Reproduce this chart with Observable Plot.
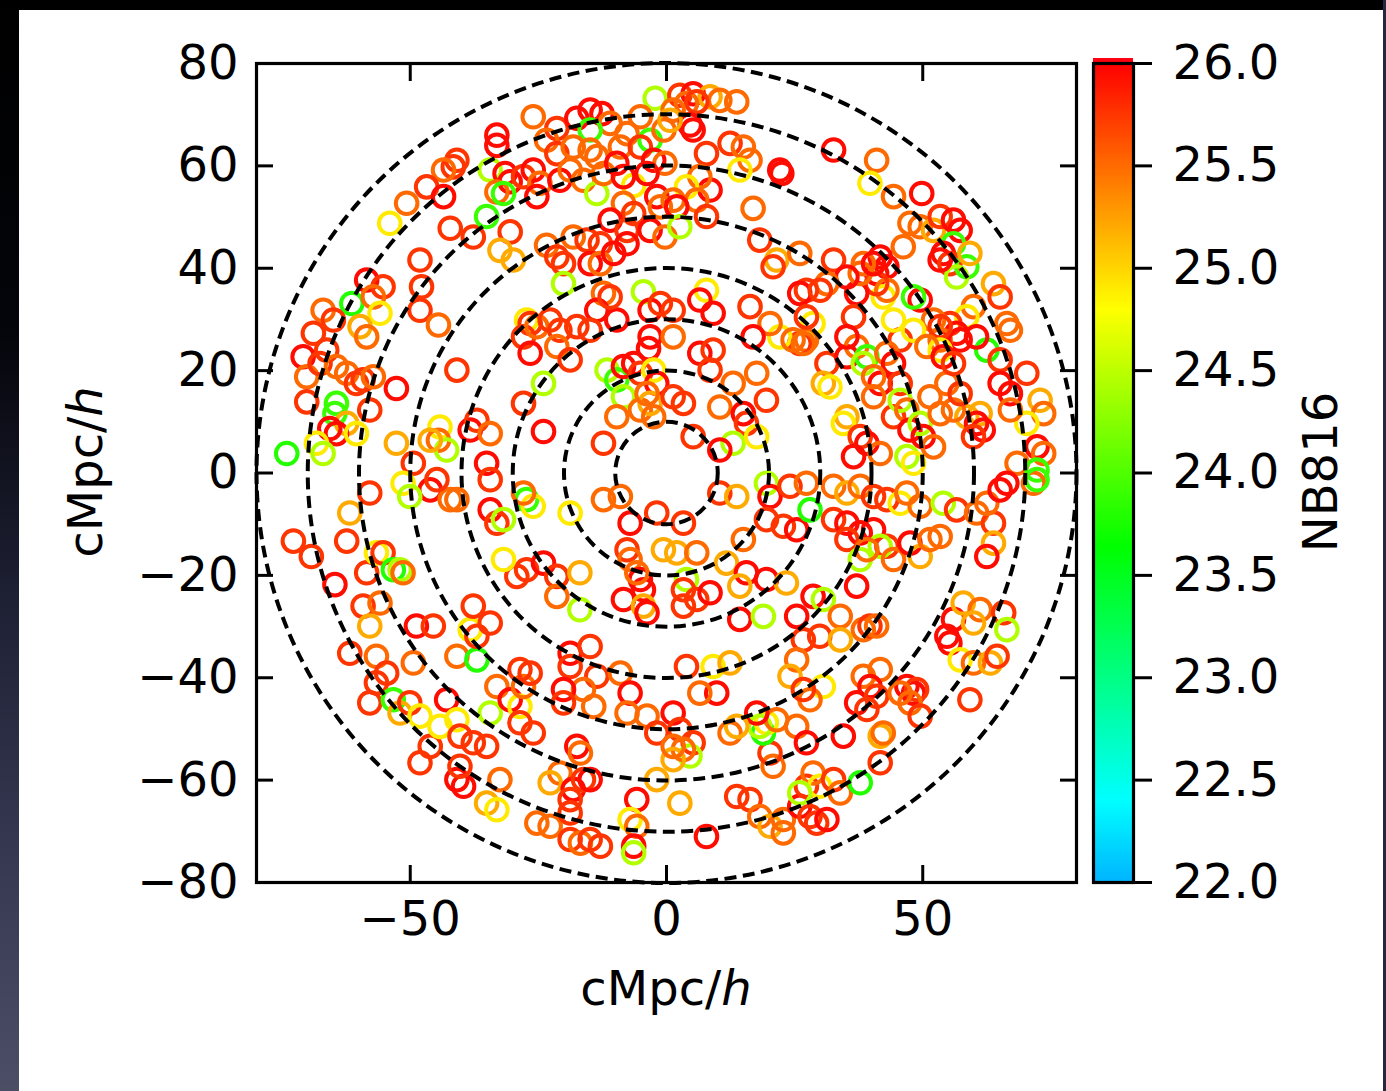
<!DOCTYPE html>
<html><head><meta charset="utf-8">
<script src="https://cdn.jsdelivr.net/npm/d3@7"></script>
<script src="https://cdn.jsdelivr.net/npm/@observablehq/plot@0.6"></script>
<style>
html,body{margin:0;padding:0;width:1386px;height:1091px;overflow:hidden;background:#000;}
#bgLeft{position:absolute;left:0;top:0;width:19px;height:1091px;background:linear-gradient(#000 0%,#04050a 30%,#1e2034 55%,#383a54 80%,#4c4e66 100%);}
#bgRight{position:absolute;left:1383px;top:0;width:3px;height:1091px;background:#262840;}
#panel{position:absolute;left:19px;top:10px;width:1364px;height:1081px;background:#fff;}
.abs{position:absolute;}
.abs svg{background:transparent !important;overflow:visible;}
.lbl{position:absolute;font-family:"DejaVu Sans";font-size:48px;line-height:48px;color:#000;white-space:nowrap;}
</style></head>
<body>
<div id="bgLeft"></div><div id="bgRight"></div><div id="panel"></div>
<div id="main" class="abs" style="left:19px;top:10px;"></div>
<div id="cbar" class="abs" style="left:1085px;top:10px;"></div>
<div class="lbl" style="left:666px;top:964px;transform:translateX(-50%);">cMpc/<i>h</i></div>
<div class="lbl" style="left:85px;top:472px;transform:translate(-50%,-50%) rotate(-90deg);">cMpc/<i>h</i></div>
<div class="lbl" style="left:1320px;top:472px;transform:translate(-50%,-50%) rotate(-90deg);">NB816</div>
<script>
// Galaxies: [x (cMpc/h), y (cMpc/h), NB816 magnitude], by quadrant
const galaxiesNW = [[-2.2,73.2,24.45],[-26.0,69.6,25.5],[-21.4,67.3,25.75],[-17.5,69.3,25.95],[-14.9,70.9,25.95],[-12.6,70.2,25.95],[-11.0,68.3,25.5],[-14.9,67.0,23.9],[-7.7,66.3,25.5],[-5.1,69.6,25.5],[-3.2,65.0,23.9],[-0.5,67.0,25.5],[-33.1,66.0,25.95],[-33.1,64.0,25.95],[-23.4,65.0,25.5],[-21.4,62.4,25.75],[-18.2,63.7,25.5],[-14.9,63.1,25.5],[-13.6,61.8,25.5],[-9.0,63.7,25.5],[-5.1,63.7,25.75],[-2.5,61.1,25.95],[-0.3,60.5,25.5],[-40.9,61.1,25.75],[-41.6,59.8,25.75],[-43.5,59.2,25.5],[-34.4,59.2,24.45],[-31.5,58.5,25.95],[-30.5,56.9,25.95],[-33.1,54.9,25.5],[-31.8,54.6,23.9],[-27.9,57.9,25.75],[-26.0,59.2,25.95],[-24.7,56.6,25.5],[-25.3,54.0,25.95],[-20.8,57.2,25.95],[-18.8,59.2,25.5],[-16.2,57.2,25.5],[-13.6,54.6,24.45],[-12.3,58.5,25.5],[-9.7,60.5,25.95],[-6.4,56.2,24.9],[-8.4,57.9,25.95],[-3.8,58.5,25.95],[-1.9,54.0,25.95],[-1.2,52.0,25.5],[-8.4,52.7,25.5],[-6.4,50.7,25.75],[-11.0,49.4,25.95],[-7.7,47.4,25.75],[-3.2,47.4,25.95],[-0.3,46.1,25.5],[-46.8,55.9,25.75],[-43.5,54.0,25.95],[-50.7,52.7,25.5],[-54.0,48.8,24.9],[-42.2,47.8,25.75],[-37.7,46.1,25.75],[-35.1,50.1,23.9],[-30.5,47.1,25.75],[-32.5,43.5,25.2],[-29.9,41.6,25.2],[-23.4,44.5,25.5],[-21.4,42.2,25.75],[-20.1,40.9,25.75],[-18.2,46.1,25.5],[-15.5,45.5,25.75],[-12.9,44.8,25.75],[-14.9,40.9,25.95],[-12.9,40.9,25.5],[-10.3,42.9,25.95],[-7.7,44.8,25.95],[-20.1,37.0,24.45],[-12.3,35.1,25.5],[-13.6,31.8,25.95],[-9.7,29.9,25.95],[-11.0,34.4,25.75],[-4.5,35.4,24.45],[-3.2,31.8,25.95],[-1.2,33.1,25.75],[-3.2,26.6,25.95],[-3.5,24.3,25.95],[-27.3,29.9,24.9],[-26.6,29.2,25.75],[-27.9,26.6,25.75],[-25.3,28.6,25.5],[-22.7,29.9,25.75],[-20.8,27.9,25.75],[-17.5,28.6,25.75],[-14.9,27.9,25.75],[-21.4,24.7,25.5],[-18.8,22.1,25.75],[-26.6,23.4,25.95],[-24.0,17.5,24.45],[-27.9,13.6,25.75],[-24.0,8.1,25.95],[-12.3,5.8,25.75],[-11.6,20.1,24.45],[-9.7,18.2,23.9],[-8.4,20.8,25.95],[-6.4,21.4,25.95],[-5.1,19.5,25.75],[-2.5,20.1,24.9],[-1.9,17.5,25.95],[-8.4,14.9,24.45],[-9.7,11.0,25.5],[-5.1,12.3,25.5],[-3.2,13.6,25.2],[-2.5,11.0,25.5],[-3.8,15.5,25.5],[-48.1,41.6,25.75],[-47.8,36.4,25.75],[-48.1,31.8,25.75],[-44.5,28.9,25.5],[-40.9,20.1,25.75],[-52.7,16.5,25.95],[-58.5,37.7,25.95],[-55.3,36.4,25.75],[-61.4,33.1,23.8],[-57.2,34.4,25.5],[-55.9,31.2,24.9],[-59.8,28.6,25.2],[-58.5,26.6,25.5],[-67.0,31.8,25.5],[-65.0,29.9,25.75],[-68.9,27.3,25.75],[-66.3,24.0,25.75],[-70.9,22.7,25.95],[-70.2,18.8,25.5],[-67.6,21.4,25.75],[-64.4,20.8,25.5],[-62.4,19.5,25.5],[-60.5,17.5,25.75],[-59.2,18.2,25.75],[-57.2,18.8,25.5],[-70.2,13.9,25.75],[-64.4,13.6,23.9],[-64.7,11.6,23.9],[-62.4,9.7,25.2],[-57.9,12.3,25.75],[-64.4,7.7,25.95],[-65.7,8.7,25.95],[-68.3,5.8,24.9],[-67.0,3.8,24.45],[-74.1,3.8,23.8],[-60.5,7.7,24.9],[-52.7,5.8,25.2],[-49.4,1.9,25.75],[-44.2,9.0,24.9],[-44.5,6.4,25.5],[-42.9,4.5,24.45],[-38.3,8.4,25.95],[-37.0,10.3,25.75],[-34.4,7.7,25.5],[-35.1,1.9,25.95],[-46.1,6.4,25.2]];
const galaxiesNE = [[2.6,73.8,25.75],[5.2,74.1,25.95],[8.5,73.5,25.2],[10.4,72.8,25.5],[13.7,72.5,25.5],[3.9,72.2,25.5],[5.9,72.5,25.75],[1.3,70.9,25.5],[4.6,68.0,25.95],[5.2,67.0,25.95],[0.7,68.9,25.2],[12.4,64.4,25.75],[15.0,63.7,25.5],[16.3,61.1,25.5],[7.8,62.4,25.75],[14.3,59.2,24.9],[22.1,59.2,25.95],[22.5,58.5,25.95],[8.5,55.3,25.95],[6.5,57.9,25.5],[3.9,55.9,24.9],[1.3,53.3,25.5],[5.9,53.3,25.5],[2.0,52.0,25.95],[7.8,50.1,25.75],[2.6,48.1,24.45],[16.9,51.7,25.5],[32.6,63.1,25.95],[41.0,61.1,25.5],[39.7,56.6,24.9],[44.3,54.0,25.5],[49.8,54.6,25.95],[47.5,48.8,25.5],[49.5,48.1,25.5],[52.1,47.4,25.2],[53.4,50.1,25.75],[56.0,49.4,25.95],[57.3,47.4,25.95],[56.0,44.8,23.9],[54.0,42.9,25.95],[55.3,40.9,25.75],[58.6,40.3,23.9],[59.2,42.9,25.2],[56.6,38.3,24.45],[53.4,41.6,25.95],[46.2,44.2,25.5],[41.7,42.2,25.95],[43.0,40.3,25.95],[41.0,39.0,25.95],[18.2,45.5,25.75],[21.5,41.6,25.2],[20.8,40.3,25.75],[26.0,42.9,25.5],[32.6,41.6,25.75],[38.4,40.9,25.5],[63.8,37.0,25.2],[65.1,34.4,25.75],[66.4,29.2,25.5],[67.1,27.9,25.5],[59.9,32.5,25.5],[58.6,30.5,24.9],[55.3,29.2,25.75],[56.6,27.3,25.95],[53.4,26.0,25.5],[57.3,26.0,25.95],[62.5,24.0,23.8],[65.1,22.1,25.75],[65.1,17.5,25.95],[67.1,15.5,25.95],[70.3,19.5,25.75],[72.9,14.2,25.2],[73.6,11.6,25.5],[70.3,9.7,24.9],[67.1,12.3,25.5],[72.3,5.1,25.95],[73.6,3.8,25.5],[68.4,1.9,25.5],[72.3,0.6,23.9],[49.5,33.8,25.95],[48.2,34.4,23.9],[52.1,29.9,25.5],[53.4,28.6,25.75],[53.4,24.0,24.9],[45.6,26.0,25.75],[48.2,27.9,24.9],[44.3,29.9,24.9],[42.3,34.4,24.9],[43.0,35.7,25.5],[41.0,37.0,25.75],[37.1,35.1,25.95],[37.8,39.0,25.5],[35.2,38.3,25.95],[31.3,37.0,25.5],[27.3,35.7,25.75],[26.0,35.1,25.95],[28.6,29.2,24.9],[27.3,26.0,25.5],[26.0,25.3,25.75],[22.1,26.6,24.9],[20.2,29.2,25.5],[16.9,26.6,25.95],[16.3,32.5,25.75],[7.8,35.7,24.9],[6.5,33.8,25.95],[9.1,31.2,25.95],[1.3,31.8,25.75],[1.3,26.6,25.5],[6.5,23.4,25.95],[9.1,24.0,25.75],[8.5,20.1,25.75],[13.0,17.5,25.5],[10.4,12.9,25.5],[15.0,11.6,25.95],[17.6,19.5,25.5],[19.5,14.2,25.75],[15.6,9.7,25.75],[13.0,5.8,24.45],[17.6,7.1,24.9],[5.2,7.1,25.75],[3.3,13.6,25.75],[1.3,14.9,25.75],[10.4,4.5,25.95],[31.3,21.4,25.75],[26.7,25.3,25.5],[35.2,22.7,25.95],[37.1,24.7,25.5],[39.1,22.7,23.9],[38.4,21.4,24.45],[43.0,23.4,25.5],[44.3,21.4,25.95],[41.7,17.5,25.95],[40.4,18.8,25.5],[45.6,17.5,25.75],[30.6,17.5,25.2],[31.9,16.8,24.9],[35.2,11.0,25.2],[34.5,9.7,24.9],[37.8,7.1,25.75],[39.1,5.8,25.95],[36.5,3.2,25.95],[41.7,3.8,25.5],[44.3,11.0,25.75],[45.6,14.2,24.45],[46.9,12.3,25.5],[47.5,8.4,25.95],[49.5,9.7,24.45],[50.1,7.1,25.95],[52.1,5.1,25.5],[46.9,3.2,24.45],[48.2,1.9,24.9],[51.4,14.9,25.5],[54.7,17.5,25.5],[58.6,11.0,25.2],[61.2,11.6,25.2],[56.0,12.3,25.5],[53.4,11.6,25.5],[57.3,15.5,25.75],[60.5,9.7,25.95],[61.8,8.4,25.95],[59.9,7.1,25.75],[60.5,26.6,25.95],[50.8,24.7,25.5],[54.0,22.7,25.95],[56.0,21.4,25.75],[40.4,14.9,25.5],[27.3,30.5,25.75],[24.7,26.0,25.5],[36.5,30.5,25.75],[35.2,26.6,25.95],[40.4,40.9,25.95],[30.0,35.7,25.75]];
const galaxiesSW = [[-72.8,-13.3,25.75],[-69.3,-16.3,25.75],[-64.7,-21.8,25.95],[-62.4,-13.3,25.75],[-61.8,-7.8,25.2],[-57.9,-3.9,25.75],[-58.5,-19.5,25.75],[-56.6,-15.6,24.9],[-55.3,-15.6,25.75],[-53.3,-18.9,23.8],[-52.0,-18.9,24.45],[-51.4,-19.5,25.5],[-59.2,-26.0,25.75],[-55.9,-25.4,25.5],[-57.9,-29.9,25.2],[-61.8,-35.2,25.75],[-56.6,-35.8,25.5],[-54.6,-39.1,25.75],[-49.4,-37.1,25.5],[-56.6,-41.0,25.75],[-57.9,-44.9,25.75],[-53.3,-44.3,23.9],[-52.0,-46.9,25.2],[-50.1,-44.9,25.75],[-48.1,-47.5,24.9],[-48.1,-56.6,25.75],[-46.1,-53.4,25.75],[-44.2,-49.5,24.9],[-42.9,-44.3,25.95],[-40.9,-48.2,24.9],[-40.3,-51.4,25.75],[-37.7,-52.7,25.75],[-35.1,-53.4,25.75],[-40.9,-59.9,25.95],[-39.6,-61.2,25.95],[-40.3,-57.3,25.75],[-35.1,-64.5,25.2],[-33.1,-65.8,24.9],[-32.5,-59.9,25.5],[-48.8,-29.9,25.95],[-45.5,-29.9,25.75],[-40.9,-35.8,25.5],[-37.0,-36.5,23.8],[-38.3,-30.6,24.9],[-37.7,-26.0,25.75],[-34.4,-29.3,25.75],[-37.0,-31.9,25.75],[-33.1,-41.7,25.5],[-34.4,-46.9,24.45],[-30.5,-44.3,25.95],[-28.6,-45.6,24.9],[-27.9,-41.7,25.5],[-28.6,-38.4,25.75],[-26.6,-39.1,25.75],[-28.6,-48.8,25.75],[-26.0,-50.8,25.75],[-29.2,-20.2,25.75],[-27.3,-18.9,25.75],[-24.0,-17.6,25.95],[-31.8,-16.9,24.9],[-21.4,-20.2,25.75],[-21.4,-24.1,25.5],[-16.9,-26.7,24.45],[-16.9,-19.5,25.2],[-18.8,-35.2,25.95],[-18.8,-37.8,25.75],[-14.9,-33.9,25.75],[-13.6,-39.7,25.75],[-16.2,-42.3,25.5],[-20.1,-42.3,25.95],[-20.1,-44.9,25.75],[-14.2,-45.6,25.5],[-9.0,-39.1,25.5],[-7.1,-43.0,25.95],[-7.7,-46.9,25.5],[-3.8,-47.5,25.5],[-1.9,-50.8,25.75],[-17.5,-53.4,25.95],[-16.8,-54.7,25.5],[-20.8,-58.6,25.5],[-22.7,-60.5,25.2],[-18.2,-61.8,25.95],[-16.2,-59.9,25.75],[-14.9,-59.9,25.95],[-18.8,-63.8,25.75],[-5.8,-63.8,25.95],[-1.9,-59.9,25.2],[-7.1,-67.7,24.9],[-5.8,-69.0,25.5],[-6.4,-72.9,25.95],[-6.4,-74.2,24.45],[-25.3,-68.4,25.5],[-22.7,-69.0,25.5],[-18.8,-66.4,25.75],[-18.8,-71.6,25.75],[-16.8,-72.3,25.5],[-14.9,-71.6,25.75],[-12.9,-72.9,25.75],[-12.3,-5.2,25.5],[-9.0,-4.6,25.5],[-7.1,-9.8,25.95],[-1.9,-7.8,25.75],[-7.7,-15.0,25.75],[-7.1,-16.9,25.5],[-5.1,-20.8,25.95],[-4.5,-22.8,25.95],[-5.8,-19.5,25.5],[-8.4,-24.7,25.95],[-4.5,-26.0,25.2],[-3.8,-27.3,25.95],[-0.6,-15.0,25.2],[-46.1,-3.3,25.95],[-42.2,-5.2,25.5],[-40.9,-5.2,25.5],[-51.4,-2.0,24.9],[-50.1,-4.6,24.45],[-44.8,-1.3,25.75],[-34.4,-7.2,25.95],[-33.1,-9.8,25.75],[-31.8,-9.1,24.45],[-27.3,-5.2,23.9],[-26.0,-6.5,24.9],[-27.9,-3.9,25.5],[-18.8,-7.8,24.9],[-34.4,-1.3,25.75]];
const galaxiesSE = [[10.4,-3.9,25.75],[13.7,-4.6,25.2],[3.3,-9.8,25.75],[2.0,-15.6,25.2],[5.9,-15.6,25.5],[3.9,-20.8,24.45],[3.3,-22.8,25.75],[5.9,-24.7,25.75],[8.5,-23.4,25.95],[3.3,-26.0,25.75],[11.7,-17.6,25.2],[15.0,-13.0,25.5],[15.6,-19.5,25.95],[14.3,-22.1,25.2],[19.5,-20.8,25.95],[23.4,-21.5,25.2],[14.3,-28.6,25.95],[18.9,-28.0,24.45],[19.5,-2.0,24.45],[20.2,-4.6,25.95],[19.5,-9.1,25.75],[22.8,-10.4,25.75],[25.4,-11.1,25.95],[28.0,-7.2,23.8],[24.1,-2.6,25.75],[27.3,-2.0,25.5],[32.6,-2.6,25.5],[35.2,-3.9,25.2],[37.8,-2.6,25.5],[40.4,-4.6,25.75],[43.0,-5.2,25.75],[45.6,-5.9,24.9],[46.9,-3.9,25.5],[49.5,-6.5,25.5],[32.6,-9.1,25.75],[35.2,-9.8,25.95],[37.8,-11.7,25.95],[35.2,-13.0,25.75],[40.4,-11.1,25.95],[43.0,-14.3,25.75],[41.7,-14.3,24.45],[37.8,-16.9,24.45],[39.1,-15.0,25.5],[44.3,-16.9,25.5],[47.5,-13.7,25.95],[49.5,-16.3,25.2],[51.4,-13.0,25.5],[53.4,-12.4,25.5],[54.0,-5.9,24.45],[56.6,-7.2,25.75],[60.5,-7.8,25.5],[63.8,-9.8,25.75],[62.5,-5.9,25.5],[65.1,-3.3,25.95],[66.4,-2.0,25.95],[71.6,-2.0,25.5],[72.3,-1.3,23.9],[63.8,-13.7,25.2],[62.5,-16.3,25.95],[37.1,-22.1,25.95],[28.6,-24.1,25.95],[30.6,-24.7,24.45],[25.4,-28.0,25.95],[33.9,-28.0,25.5],[38.4,-30.6,25.5],[39.7,-29.9,25.75],[41.0,-29.9,25.5],[29.9,-31.9,25.75],[33.9,-32.6,25.2],[26.7,-32.6,25.75],[25.4,-36.5,25.5],[24.1,-39.7,25.2],[30.6,-41.7,24.9],[28.0,-44.3,25.5],[26.7,-42.3,25.75],[37.1,-44.9,25.95],[38.4,-39.7,25.5],[41.7,-38.4,25.5],[39.7,-41.7,25.95],[41.0,-43.6,25.75],[39.1,-46.2,25.75],[34.5,-51.4,25.95],[41.7,-51.4,25.2],[42.3,-50.8,25.5],[46.9,-41.7,25.95],[48.2,-43.0,25.95],[48.8,-42.3,25.75],[47.5,-44.9,25.5],[49.5,-47.5,25.75],[45.6,-43.0,25.5],[56.0,-28.6,25.95],[54.7,-31.9,25.95],[55.3,-33.2,25.95],[57.9,-25.4,25.2],[61.2,-26.7,25.5],[59.9,-29.3,25.2],[65.8,-27.3,25.75],[66.4,-30.6,24.45],[57.3,-36.5,24.9],[59.9,-37.1,25.5],[63.2,-37.1,25.2],[64.5,-35.8,25.75],[59.2,-44.3,25.75],[2.6,-64.5,25.2],[7.8,-71.0,25.95],[13.7,-63.2,25.75],[16.3,-63.8,25.75],[18.2,-67.1,25.5],[20.2,-69.0,25.2],[22.8,-67.7,25.5],[22.8,-70.3,25.5],[26.0,-65.1,25.95],[27.3,-61.2,25.75],[28.6,-58.6,25.5],[29.9,-61.2,24.9],[26.0,-62.5,24.45],[32.6,-59.9,25.75],[33.9,-62.5,25.5],[37.8,-60.5,23.8],[28.0,-67.1,25.75],[29.3,-68.4,25.75],[31.3,-67.7,25.95],[41.7,-56.6,25.75],[20.8,-57.3,25.5],[20.2,-54.7,25.75],[18.9,-50.8,23.8],[19.5,-48.8,24.9],[18.2,-49.5,24.45],[21.5,-48.2,25.5],[25.4,-49.5,25.5],[27.3,-52.7,25.95],[17.6,-46.9,25.95],[12.4,-50.8,25.5],[13.7,-49.5,25.2],[9.8,-43.0,25.95],[6.5,-43.0,25.5],[3.9,-37.8,25.75],[9.1,-37.8,24.9],[12.4,-37.1,25.2],[1.3,-46.9,25.95],[2.6,-50.1,25.75],[5.2,-52.7,25.75],[4.6,-55.3,24.45],[3.3,-54.0,25.5],[1.3,-56.0,25.2],[1.3,-53.4,25.5]];

const ringRadii = [10, 20, 30, 40, 50, 60, 70, 80];
const ringCenter = [0, 0];
const xTicks = [-50, 0, 50];
const yTicks = [-80, -60, -40, -20, 0, 20, 40, 60, 80];
const cbarTicks = [22.0, 22.5, 23.0, 23.5, 24.0, 24.5, 25.0, 25.5, 26.0];
const magDomain = [22, 26];
// colormap stops (gist_rainbow-like segment)
const cmapStops = [22.0, 22.4, 23.64, 24.8, 26.0];
const cmapColors = ["#00b4ff", "#00ffff", "#00ff00", "#ffff00", "#ff0000"];

const galaxies = [...galaxiesNW, ...galaxiesNE, ...galaxiesSW, ...galaxiesSE]
  .map(([x, y, m]) => ({x, y, m}));
const rings = ringRadii.map(r => ({r, x: ringCenter[0], y: ringCenter[1]}));

const colorScale = {type: "linear", domain: cmapStops, range: cmapColors, interpolate: "rgb", clamp: true};
const font = {fontFamily: "DejaVu Sans", fontSize: "48px", background: "transparent", color: "#000", overflow: "visible"};

const main = Plot.plot({
  width: 1080, height: 1081,
  marginLeft: 237, marginRight: 23, marginTop: 53, marginBottom: 209,
  x: {domain: [-80, 80]},
  y: {domain: [-80, 80]},
  r: {type: "linear", domain: [0, 80], range: [0, 410]},
  color: colorScale,
  style: font,
  marks: [
    Plot.dot(galaxies, {x: "x", y: "y", stroke: "m", r: 10.8, strokeWidth: 4, fill: "none"}),
    Plot.dot(rings, {x: "x", y: "y", r: "r", stroke: "#000", strokeWidth: 4, strokeDasharray: "12,6.5", fill: "none"}),
    Plot.axisY({anchor: "left", ticks: yTicks, tickSize: -17, tickPadding: 35, strokeWidth: 3, label: null}),
    Plot.axisY({anchor: "right", ticks: yTicks, tickSize: -17, tickFormat: () => "", strokeWidth: 3, label: null}),
    Plot.axisX({anchor: "bottom", ticks: xTicks, tickSize: -17, tickPadding: 35, strokeWidth: 3, label: null}),
    Plot.axisX({anchor: "top", ticks: xTicks, tickSize: -17, tickFormat: () => "", strokeWidth: 3, label: null}),
    Plot.frame({stroke: "#000", strokeWidth: 3.2})
  ]
});
document.getElementById("main").appendChild(main);

// colorbar ramp steps (legend rendering only)
const step = 0.01;
const rampSteps = d3.range(magDomain[0], magDomain[1], step);
const cbar = Plot.plot({
  width: 298, height: 1081,
  marginLeft: 8, marginRight: 250, marginTop: 53, marginBottom: 209,
  x: {domain: [0, 1], axis: null},
  y: {domain: magDomain},
  color: colorScale,
  style: font,
  marks: [
    Plot.rect(rampSteps, {x1: 0, x2: 1, y1: d => d, y2: d => d + step * 1.2, fill: d => d + step / 2, shapeRendering: "crispEdges"}),
    Plot.rect([magDomain[1]], {x1: 0, x2: 1, y1: d => d, y2: d => d, insetTop: -5, fill: "#ff0010"}),
    Plot.frame({stroke: "#000", strokeWidth: 3.2}),
    Plot.axisY({anchor: "right", ticks: cbarTicks, tickFormat: d3.format(".1f"), tickSize: 18, tickPadding: 21, strokeWidth: 3, label: null})
  ]
});
document.getElementById("cbar").appendChild(cbar);
</script>
</body></html>
